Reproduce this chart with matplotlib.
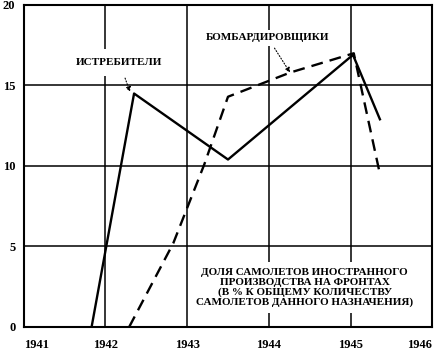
import matplotlib.pyplot as plt

# доля самолетов иностранного производства на фронтах, %
years_fighters = [1941.83, 1942.35, 1943.50, 1945.03, 1945.36]
share_fighters = [0, 14.5, 10.4, 16.9, 12.9]

years_bombers = [1942.29, 1942.83, 1943.21, 1943.50, 1944.26, 1945.04, 1945.36]
share_bombers = [0, 5.2, 10.1, 14.3, 15.8, 17.0, 9.5]

x_ticks = [1941, 1942, 1943, 1944, 1945, 1946]
y_ticks = [0, 5, 10, 15, 20]

font = {'family': 'Liberation Serif', 'weight': 'bold'}

fig = plt.figure(figsize=(4.41, 3.55), dpi=100)
ax = fig.add_axes([0.054, 0.079, 0.926, 0.907])

ax.set_xlim(1941, 1946)
ax.set_ylim(0, 20)
ax.set_xticks(x_ticks)
ax.set_yticks(y_ticks)
ax.set_xticklabels([str(y) for y in x_ticks], fontdict=font, fontsize=9)
ax.set_yticklabels([str(v) for v in y_ticks], fontdict=font, fontsize=9)
ax.get_xticklabels()[0].set_ha('left')
ax.get_xticklabels()[-1].set_ha('right')
ax.tick_params(axis='both', length=0)
ax.tick_params(axis='x', pad=9)
ax.tick_params(axis='y', pad=6)

for s in ax.spines.values():
    s.set_linewidth(1.5)
    s.set_color('black')

# сетка
for x in x_ticks[1:-1]:
    ax.axvline(x, color='black', lw=1.1, zorder=1)
for y in y_ticks[1:-1]:
    ax.axhline(y, color='black', lw=1.1, zorder=1)

ax.plot(years_fighters, share_fighters, color='black', lw=1.7, zorder=4)
ax.plot(years_bombers, share_bombers, color='black', lw=1.7,
        dashes=(5, 3), zorder=4)

box = dict(boxstyle='square,pad=0.8', fc='white', ec='none')
arrow = dict(arrowstyle='-|>', linestyle=':', lw=0.8, color='black',
             mutation_scale=7, shrinkB=0)

ax.annotate('ИСТРЕБИТЕЛИ', xy=(years_fighters[1] - 0.05, share_fighters[1] + 0.1),
            xytext=(1942.17, 16.45), ha='center', va='center', fontsize=8,
            bbox=box, arrowprops=arrow, zorder=5, **font)
ax.annotate('БОМБАРДИРОВЩИКИ', xy=(years_bombers[4], share_bombers[4]),
            xytext=(1943.99, 17.95), ha='center', va='center', fontsize=8,
            bbox=dict(boxstyle='square,pad=0.3', fc='white', ec='none'),
            arrowprops=arrow, zorder=5, **font)

ax.text(1944.44, 2.45, 'ДОЛЯ САМОЛЕТОВ ИНОСТРАННОГО\nПРОИЗВОДСТВА НА ФРОНТАХ\n'
        '(В % К ОБЩЕМУ КОЛИЧЕСТВУ\nСАМОЛЕТОВ ДАННОГО НАЗНАЧЕНИЯ)',
        ha='center', va='center', multialignment='center', fontsize=8,
        linespacing=1.05,
        bbox=dict(boxstyle='square,pad=0.6', fc='white', ec='none'), zorder=3, **font)

fig.savefig('out.png', dpi=100)
